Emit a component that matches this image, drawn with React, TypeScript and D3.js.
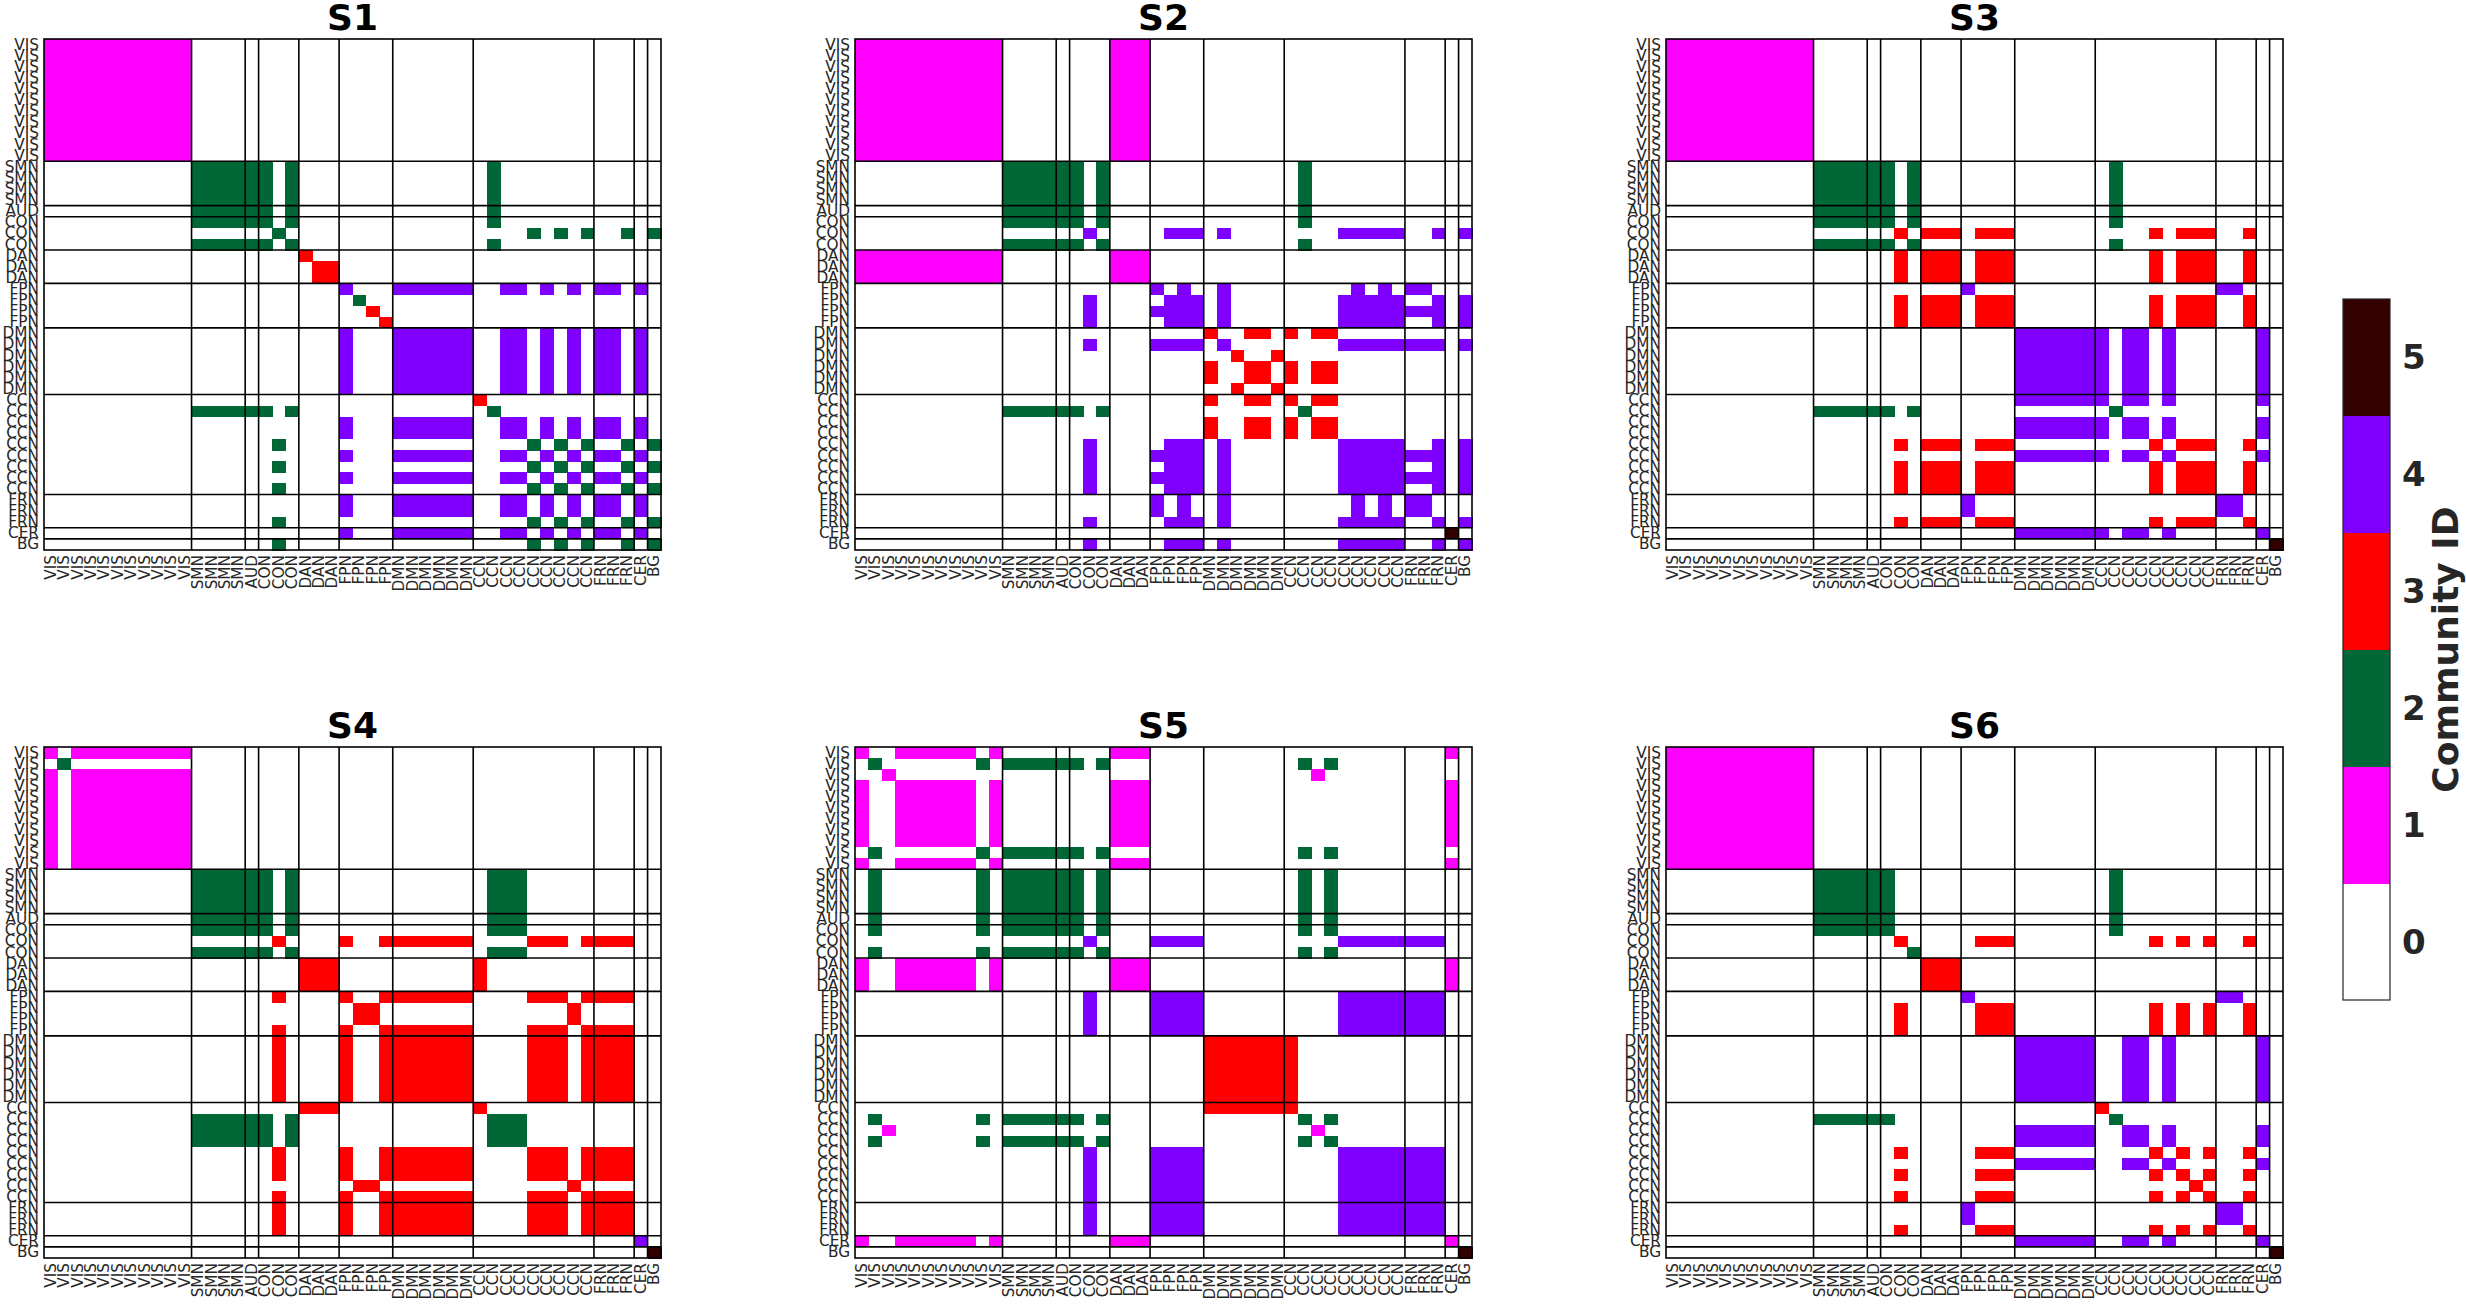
import React from "react";
import * as d3 from "d3";

// node ordering along both axes
const NETWORKS = ["VIS", "SMN", "AUD", "CON", "DAN", "FPN", "DMN", "CCN", "FRN", "CER", "BG"];
const NETWORK_SIZES = [11, 4, 1, 3, 3, 4, 6, 9, 3, 1, 1];

const COMMUNITY_IDS = [0, 1, 2, 3, 4, 5];
const COMMUNITY_COLORS = ["#ffffff", "#ff00ff", "#006837", "#ff0000", "#8000ff", "#330000"];

// [community id, member nodes] - a cell (i, j) gets the id when i and j share a module
const S1_MODULES: [number, number[]][] = [
  [1, [0, 1, 2, 3, 4, 5, 6, 7, 8, 9, 10]],
  [2, [11, 12, 13, 14, 15, 16, 18, 33]],
  [2, [17, 36, 38, 40, 43, 45]],
  [3, [19]],
  [3, [20, 21]],
  [4, [22, 26, 27, 28, 29, 30, 31, 34, 35, 37, 39, 41, 42, 44]],
  [2, [23]],
  [3, [24]],
  [3, [25]],
  [3, [32]],
];

const S2_MODULES: [number, number[]][] = [
  [1, [0, 1, 2, 3, 4, 5, 6, 7, 8, 9, 10, 19, 20, 21]],
  [2, [11, 12, 13, 14, 15, 16, 18, 33]],
  [4, [17, 23, 24, 25, 27, 36, 37, 38, 39, 40, 43, 45]],
  [4, [22, 24, 27, 37, 39, 41, 42]],
  [3, [26, 29, 30, 32, 34, 35]],
  [3, [28, 31]],
  [5, [44]],
];

const S3_MODULES: [number, number[]][] = [
  [1, [0, 1, 2, 3, 4, 5, 6, 7, 8, 9, 10]],
  [2, [11, 12, 13, 14, 15, 16, 18, 33]],
  [3, [17, 19, 20, 21, 23, 24, 25, 36, 38, 39, 40, 43]],
  [4, [22, 41, 42]],
  [4, [26, 27, 28, 29, 30, 31, 32, 34, 35, 37, 44]],
  [5, [45]],
];

const S4_MODULES: [number, number[]][] = [
  [1, [0, 2, 3, 4, 5, 6, 7, 8, 9, 10]],
  [2, [1]],
  [2, [11, 12, 13, 14, 15, 16, 18, 33, 34, 35]],
  [3, [17, 22, 25, 26, 27, 28, 29, 30, 31, 36, 37, 38, 40, 41, 42, 43]],
  [3, [19, 20, 21, 32]],
  [3, [23, 24, 39]],
  [4, [44]],
  [5, [45]],
];

const S5_MODULES: [number, number[]][] = [
  [1, [0, 3, 4, 5, 6, 7, 8, 10, 19, 20, 21, 44]],
  [2, [1, 9, 11, 12, 13, 14, 15, 16, 18, 33, 35]],
  [1, [2, 34]],
  [4, [17, 22, 23, 24, 25, 36, 37, 38, 39, 40, 41, 42, 43]],
  [3, [26, 27, 28, 29, 30, 31, 32]],
  [5, [45]],
];

const S6_MODULES: [number, number[]][] = [
  [1, [0, 1, 2, 3, 4, 5, 6, 7, 8, 9, 10]],
  [2, [11, 12, 13, 14, 15, 16, 33]],
  [3, [17, 23, 24, 25, 36, 38, 40, 43]],
  [2, [18]],
  [3, [19, 20, 21]],
  [4, [22, 41, 42]],
  [4, [26, 27, 28, 29, 30, 31, 34, 35, 37, 44]],
  [3, [32]],
  [3, [39]],
  [5, [45]],
];

const SUBJECTS = ["S1", "S2", "S3", "S4", "S5", "S6"];
const SUBJECT_MODULES = [S1_MODULES, S2_MODULES, S3_MODULES, S4_MODULES, S5_MODULES, S6_MODULES];

const W = 2466;
const H = 1307;
const AX_W = 617;
const AX_H = 511;
const AX_LEFT = [44, 855, 1666];
const AX_TOP = [39, 747];
const FONT = "DejaVu Sans, sans-serif";
const TICK_SIZE = 15.3;

const nodeLabels: string[] = NETWORKS.flatMap((n, i) => Array(NETWORK_SIZES[i]).fill(n));
const N = nodeLabels.length;
const boundaries: number[] = Array.from(d3.cumsum(NETWORK_SIZES)).slice(0, -1);

const color = d3.scaleOrdinal<number, string>().domain(COMMUNITY_IDS).range(COMMUNITY_COLORS);

function buildCells(modules: [number, number[]][]) {
  const m = new Map<string, { i: number; j: number; c: number }>();
  modules.forEach(([c, nodes]) => {
    nodes.forEach((i) =>
      nodes.forEach((j) => {
        m.set(`${i}-${j}`, { i, j, c });
      })
    );
  });
  return Array.from(m.values());
}

const Matrix: React.FC<{ title: string; modules: [number, number[]][]; x0: number; y0: number }> = ({
  title,
  modules,
  x0,
  y0,
}) => {
  const x = d3.scaleBand<number>().domain(d3.range(N)).range([0, AX_W]).padding(0);
  const y = d3.scaleBand<number>().domain(d3.range(N)).range([0, AX_H]).padding(0);
  const cells = buildCells(modules);

  return (
    <g transform={`translate(${x0},${y0})`}>
      <text
        x={AX_W / 2}
        y={-9}
        textAnchor="middle"
        fontFamily={FONT}
        fontWeight="bold"
        fontSize={36}
        fill="#000"
      >
        {title}
      </text>
      <g shapeRendering="crispEdges">
        {cells.map((d) => (
          <rect
            key={`${d.i}-${d.j}`}
            x={x(d.j)}
            y={y(d.i)}
            width={x.bandwidth() + 0.5}
            height={y.bandwidth() + 0.5}
            fill={color(d.c)}
          />
        ))}
      </g>
      {boundaries.map((b) => (
        <g key={`b${b}`}>
          <line x1={x(b)} x2={x(b)} y1={0} y2={AX_H} stroke="#000" strokeWidth={1.6} />
          <line x1={0} x2={AX_W} y1={y(b)} y2={y(b)} stroke="#000" strokeWidth={1.6} />
        </g>
      ))}
      <rect x={0} y={0} width={AX_W} height={AX_H} fill="none" stroke="#000" strokeWidth={1.6} />
      {nodeLabels.map((lab, i) => (
        <text
          key={`y${i}`}
          x={-5}
          y={(y(i) as number) + y.bandwidth() / 2}
          textAnchor="end"
          dominantBaseline="central"
          fontFamily={FONT}
          fontSize={TICK_SIZE}
          fill="#262626"
        >
          {lab}
        </text>
      ))}
      {nodeLabels.map((lab, i) => (
        <text
          key={`x${i}`}
          transform={`translate(${(x(i) as number) + x.bandwidth() / 2},${AX_H + 5}) rotate(-90)`}
          textAnchor="end"
          dominantBaseline="central"
          fontFamily={FONT}
          fontSize={TICK_SIZE}
          fill="#262626"
        >
          {lab}
        </text>
      ))}
    </g>
  );
};

const Colorbar: React.FC = () => {
  const cbX = 2343;
  const cbW = 47;
  const top = 299;
  const bottom = 1000;
  const yb = d3
    .scaleBand<number>()
    .domain([...COMMUNITY_IDS].reverse())
    .range([top, bottom]);
  return (
    <g>
      {COMMUNITY_IDS.map((c) => (
        <rect
          key={c}
          x={cbX}
          y={yb(c)}
          width={cbW}
          height={yb.bandwidth() + 0.5}
          fill={color(c)}
          shapeRendering="crispEdges"
        />
      ))}
      <rect x={cbX} y={top} width={cbW} height={bottom - top} fill="none" stroke="#262626" strokeWidth={1.2} />
      {COMMUNITY_IDS.map((c) => (
        <text
          key={`t${c}`}
          x={cbX + cbW + 12}
          y={(yb(c) as number) + yb.bandwidth() / 2}
          dominantBaseline="central"
          fontFamily={FONT}
          fontWeight="bold"
          fontSize={34}
          fill="#262626"
        >
          {c}
        </text>
      ))}
      <text
        transform={`translate(2445,${(top + bottom) / 2}) rotate(-90)`}
        textAnchor="middle"
        dominantBaseline="central"
        fontFamily={FONT}
        fontWeight="bold"
        fontSize={36}
        fill="#262626"
      >
        Community ID
      </text>
    </g>
  );
};

export default function App() {
  return (
    <svg
      width={W}
      height={H}
      viewBox={`0 0 ${W} ${H}`}
      style={{ position: "absolute", left: 0, top: 0, background: "#fff" }}
    >
      <rect width={W} height={H} fill="#fff" />
      {SUBJECTS.map((s, k) => (
        <Matrix
          key={s}
          title={s}
          modules={SUBJECT_MODULES[k]}
          x0={AX_LEFT[k % 3]}
          y0={AX_TOP[Math.floor(k / 3)]}
        />
      ))}
      <Colorbar />
    </svg>
  );
}
